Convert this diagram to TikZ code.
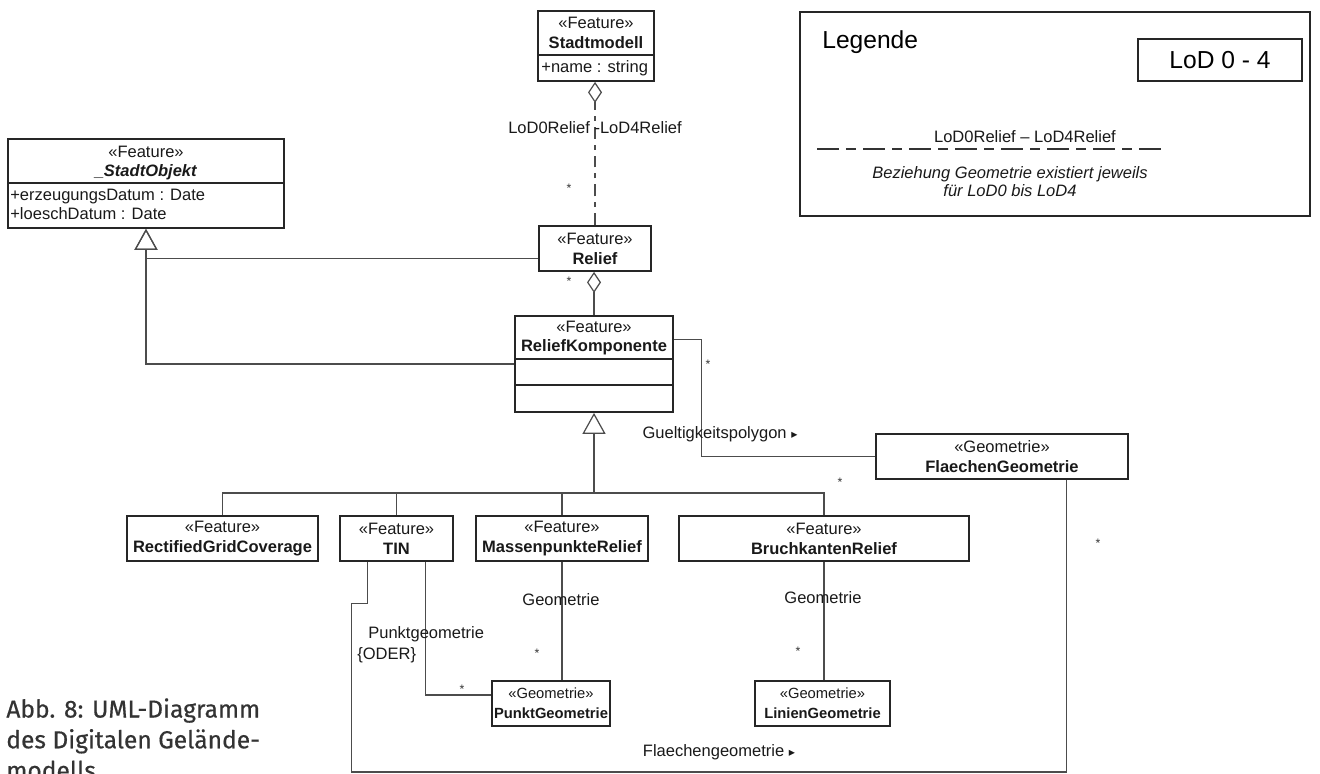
\documentclass[tikz,border=0pt]{standalone}
\usepackage{fontspec}
\setmainfont{Liberation Sans}
\newfontfamily\capfont[BoldFont={Fira Sans}, BoldFeatures={FakeBold=0.5}]{Fira Sans}
\newfontfamily\symfont{DejaVu Sans}
\usetikzlibrary{arrows.meta, fit}
\newcommand{\klasse}[2]{«#1»\\\textbf{#2}}
\newcommand{\pfeil}{{\symfont\fontsize{7}{8}\selectfont ▸}}

\begin{document}
\begin{tikzpicture}[
                x=0.02cm, y=-0.02cm,
                txt/.style={
                    font=\fontsize{9.4}{11.3}\selectfont,
                    inner sep=0pt,
                    text=black!90,
                    align=center,
                },
                geo/.style={
                    txt,
                    font=\fontsize{8.4}{11.3}\selectfont,
                },
                box/.style={
                    draw=black!85,
                    line width=1pt,
                    inner sep=0pt,
                },
                trenn/.style={
                    draw=black!85,
                    line width=1pt,
                },
                verb/.style={
                    draw=black!70,
                    line width=0.7pt,
                },
                lod/.style={
                    verb,
                    dash pattern=on 6.8pt off 3.4pt on 2.8pt off 3.4pt,
                },
                lodlegende/.style={
                    draw=black!80,
                    line width=0.8pt,
                    dash pattern=on 12.5pt off 4pt on 5.7pt off 4pt,
                },
                agg/.style={-{Diamond[open, length=0.42cm, width=0.28cm]}},
                gen/.style={-{Triangle[open, length=0.42cm, width=0.46cm]}},
                gross/.style={
                    font=\fontsize{14}{16}\selectfont,
                    inner sep=0pt,
                },
                stern/.style={
                    font=\fontsize{7}{8}\selectfont,
                    inner sep=0pt,
                    text=black!80,
                },
            ]
            \useasboundingbox (0,0) rectangle (1320,774);

            \node[box, fit={(538,11) (654,81)}] (stadtmodell) {};
            \node[txt] at (596,33) {\klasse{Feature}{Stadtmodell}};
            \node[txt, anchor=west] at (541,68) {+name : string};
            \draw[trenn] (stadtmodell.west |- 0,55) -- (stadtmodell.east |- 0,55);

            \node[box, fit={(8,139) (284,228)}] (stadtobjekt) {};
            \node[txt] at (146,163) {«Feature»\\\textbf{\textit{\_StadtObjekt}}};
            \node[txt, anchor=west] at (10,197) {+erzeugungsDatum : Date};
            \node[txt, anchor=west] at (10,214) {+loeschDatum : Date};
            \draw[trenn] (stadtobjekt.west |- 0,183) -- (stadtobjekt.east |- 0,183);

            \node[box, fit={(539,226) (651,271)}] (relief) {};
            \node[txt] at (relief.center) {\klasse{Feature}{Relief}};

            \node[box, fit={(515,316) (673,412)}] (reliefkomp) {};
            \node[txt] at (594,338) {\klasse{Feature}{ReliefKomponente}};
            \draw[trenn] (reliefkomp.west |- 0,359) -- (reliefkomp.east |- 0,359);
            \draw[trenn] (reliefkomp.west |- 0,385) -- (reliefkomp.east |- 0,385);

            \node[box, fit={(876,434) (1128,479)}] (flaeche) {};
            \node[txt] at (flaeche.center) {\klasse{Geometrie}{FlaechenGeometrie}};
            \node[box, fit={(127,516) (318,561)}] (rgc) {};
            \node[txt] at (rgc.center) {\klasse{Feature}{RectifiedGridCoverage}};
            \node[box, fit={(340,516) (453,561)}] (tin) {};
            \node[txt] at (tin.center) {\klasse{Feature}{TIN}};
            \node[box, fit={(476,516) (648,561)}] (massen) {};
            \node[txt] at (massen.center) {\klasse{Feature}{MassenpunkteRelief}};
            \node[box, fit={(679,516) (969,561)}] (bruch) {};
            \node[txt] at (bruch.center) {\klasse{Feature}{BruchkantenRelief}};
            \node[box, fit={(492,681) (610,726)}] (punkt) {};
            \node[geo] at (punkt.center) {\klasse{Geometrie}{PunktGeometrie}};
            \node[box, fit={(755,681) (890,726)}] (linien) {};
            \node[geo] at (linien.center) {\klasse{Geometrie}{LinienGeometrie}};

            \coordinate (bus) at (594,493);
            \coordinate (unten) at (0,772);

            \draw[lod, agg] (relief.north) -- (relief.north |- stadtmodell.south);
            \draw[verb, agg] (reliefkomp.north) -- (reliefkomp.north |- relief.south);
            \draw[verb, gen] (relief.190) -| (stadtobjekt.south);
            \draw[verb, gen] (reliefkomp.west) -| (stadtobjekt.south);
            \draw[verb, gen] (bus) -- (reliefkomp.south);
            \draw[verb] (rgc.north) |- (bus) (tin.north) |- (bus)
                (massen.north) |- (bus) (bruch.north) |- (bus);
            \draw[verb] (reliefkomp.17) -- ++(28,0) |- (flaeche.west);
            \draw[verb] (tin.219) -- ++(0,42) -- ++(-16,0)
                |- (unten -| flaeche.-20) -- (flaeche.-20);
            \draw[verb] (tin.-39) |- (punkt.172);
            \draw[verb] (massen.south) -- (massen.south |- punkt.north);
            \draw[verb] (bruch.south) -- (bruch.south |- linien.north);

            \node[txt] at (595,128) {LoD0Relief -LoD4Relief};
            \node[txt] at (720,434) {Gueltigkeitspolygon \pfeil};
            \node[txt] at (561,600) {Geometrie};
            \node[txt] at (823,598) {Geometrie};
            \node[txt, anchor=west] at (368,634) {Punktgeometrie};
            \node[txt, anchor=west] at (357,655) {\{ODER\}};
            \node[txt] at (719,752) {Flaechengeometrie \pfeil};
            \foreach \p in {(569,188), (569,281), (708,364), (840,482),
                (1098,543), (537,653), (798,651), (462,689)}
                \node[stern] at \p {*};

            \node[box, fit={(800,12) (1310,216)}] (legende) {};
            \node[gross, anchor=west] at (822,42) {Legende};
            \node[box, fit={(1138,39) (1302,81)}] (lodbox) {};
            \node[gross] at (lodbox.center) {LoD 0 - 4};
            \coordinate (lega) at (817,149);
            \coordinate (legb) at (1167,149);
            \draw[lodlegende] (lega) -- (legb);
            \node[txt] at (1025,137) {LoD0Relief – LoD4Relief};
            \node[txt, font=\fontsize{9.4}{10.2}\selectfont\itshape] at (1010,182)
                {Beziehung Geometrie existiert jeweils\\für LoD0 bis LoD4};

            \node[anchor=north west, align=left, inner sep=0pt, text=black!80,
                font=\capfont\bfseries\fontsize{14}{17.5}\selectfont] (caption) at (6,698)
                {Abb. 8: UML-Diagramm\\des Digitalen Gelände-\\modells};
        \end{tikzpicture}
\end{document}
